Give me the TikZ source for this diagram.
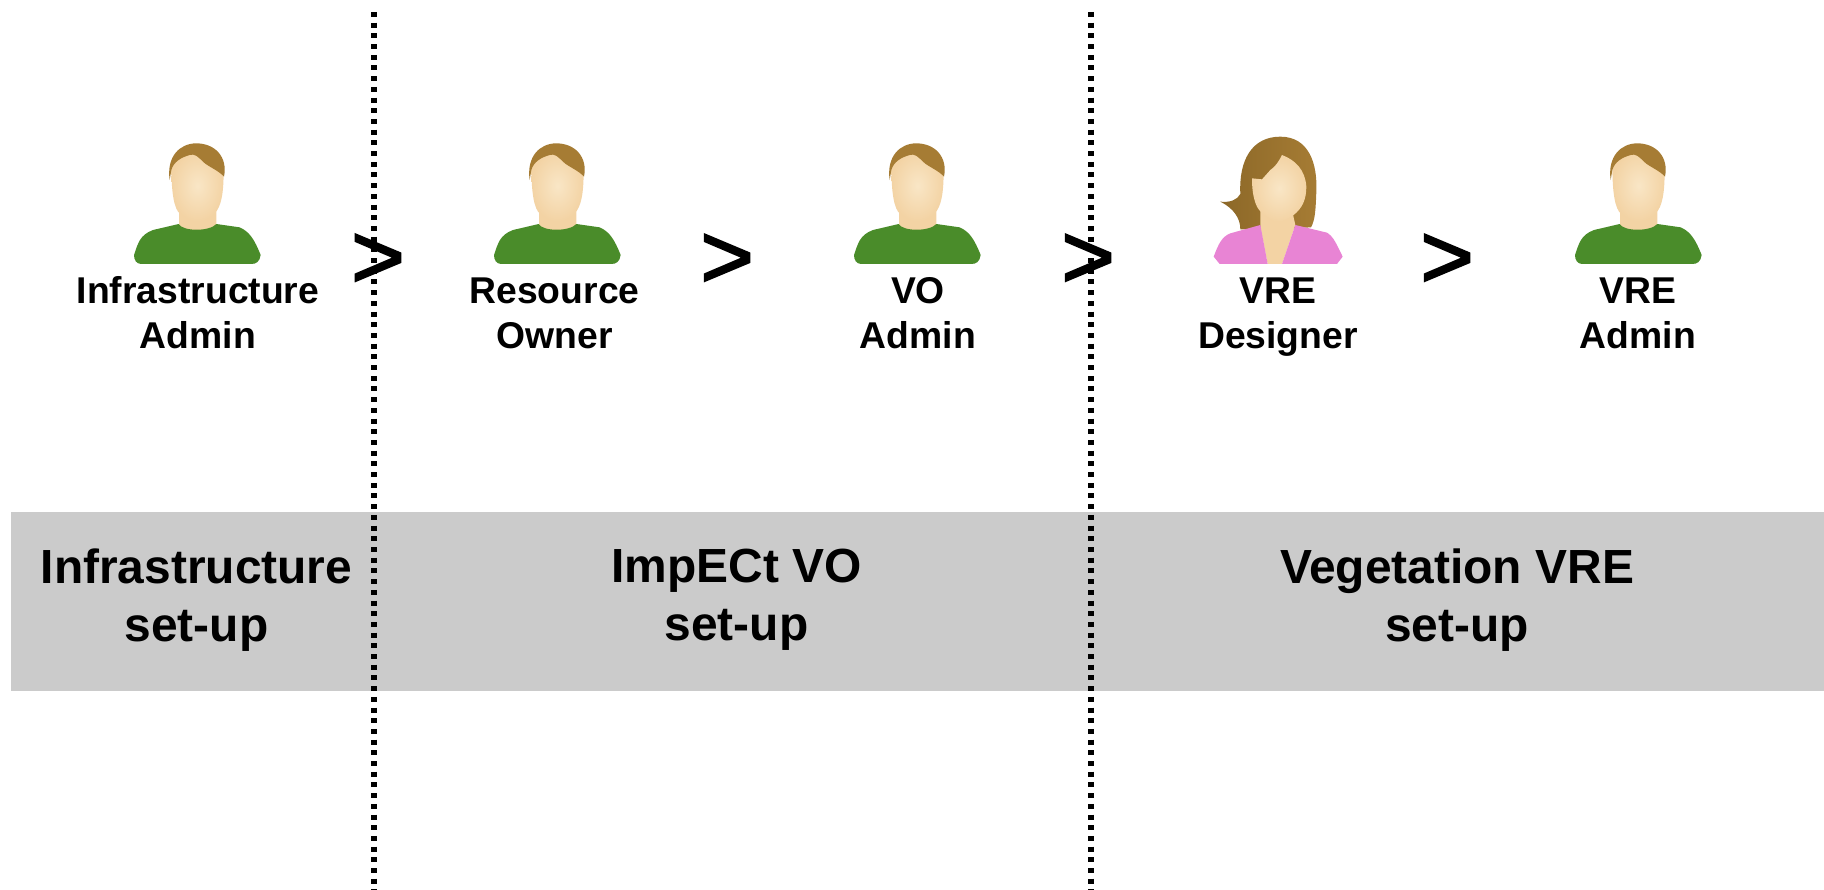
\documentclass[tikz,border=0pt]{standalone}
\usepackage{fontspec}
\usepackage{xcolor}
\setmainfont{Liberation Sans}
\newfontfamily\orderfont[FakeBold=2]{Liberation Sans}
\usetikzlibrary{positioning}
\definecolor{shirt}{HTML}{4A8C2A}
\definecolor{blouse}{HTML}{E884D4}
\definecolor{hair}{HTML}{A67C34}
\definecolor{hairdark}{HTML}{8C6828}
\definecolor{skin}{HTML}{F3D3A4}
\definecolor{skinlight}{HTML}{F9E6C6}
\definecolor{band}{HTML}{CBCBCB}
\tikzset{
    role/.style={align=center, font=\fontsize{37.3}{45}\selectfont\bfseries},
    phase/.style={align=center, font=\fontsize{47.9}{58}\selectfont\bfseries},
    order/.style={anchor=base, inner sep=0pt, font=\orderfont\fontsize{92}{92}\selectfont},
    divider/.style={line width=6pt, dash pattern=on 5pt off 5.7pt},
    man/.pic={
        \begin{scope}[x=.3333pt, y=-.3333pt, shift={(-292,-432)}]
            \fill[skin] (238,250) -- (238,320) -- (290,350) -- (350,320) -- (350,250) -- cycle;
            \fill[shirt] (103,405) .. controls (115,370) and (120,345) .. (160,330)
                -- (237,312) .. controls (250,335) and (330,335) .. (350,312)
                -- (420,322) .. controls (450,335) and (465,360) .. (483,405)
                .. controls (480,425) and (470,432) .. (455,432)
                -- (125,432) .. controls (110,432) and (103,420) .. (103,405) -- cycle;
            \shade[inner color=skinlight, outer color=skin] (215,130)
                .. controls (215,90) and (372,90) .. (372,150)
                .. controls (372,220) and (365,260) .. (345,280)
                .. controls (325,300) and (305,304) .. (292,304)
                .. controls (275,304) and (255,295) .. (235,275)
                .. controls (218,250) and (215,190) .. (215,130) -- cycle;
            \fill[hair] (210,180) .. controls (200,110) and (240,70) .. (290,70)
                .. controls (345,70) and (385,110) .. (373,170)
                .. controls (355,150) and (325,140) .. (310,125)
                .. controls (295,110) and (285,100) .. (270,105)
                .. controls (245,112) and (222,125) .. (215,150) -- cycle;
        \end{scope}
    },
    woman/.pic={
        \begin{scope}[x=.3333pt, y=-.3333pt, shift={(-293,-432)}]
            \shade[left color=hairdark, right color=hair] (180,328) .. controls (180,295) and (160,265) .. (120,245)
                .. controls (150,248) and (170,240) .. (180,222)
                .. controls (175,120) and (215,50) .. (300,50)
                .. controls (385,50) and (412,130) .. (408,215)
                .. controls (406,265) and (405,300) .. (392,322)
                -- (240,330) -- cycle;
            \fill[skin] (240,265) -- (240,320) -- (262,432) -- (305,432) -- (345,315) -- (335,270) -- cycle;
            \fill[blouse] (100,410) .. controls (115,370) and (125,350) .. (150,340)
                -- (240,315) -- (262,432) -- (118,432) -- cycle;
            \fill[blouse] (345,315) -- (440,338) .. controls (460,350) and (470,375) .. (487,410)
                -- (470,432) -- (305,432) -- cycle;
            \shade[inner color=skinlight, outer color=skin] (305,105)
                .. controls (345,120) and (375,150) .. (378,200)
                .. controls (378,240) and (365,265) .. (340,285)
                .. controls (320,300) and (305,305) .. (290,305)
                .. controls (270,300) and (240,280) .. (230,260)
                .. controls (218,235) and (215,205) .. (215,175)
                -- (245,178) -- (270,150) .. controls (285,140) and (295,125) .. (305,105) -- cycle;
        \end{scope}
    }
}

\begin{document}
\begin{tikzpicture}[x=1pt, y=-1pt]
    \useasboundingbox (0,0) rectangle (1824,890);

    % phases
    \fill[band] (11,512) rectangle (1824,691);
    \node[phase] (infraphase) at (196.5,600) {Infrastructure\\set-up};
    \node[phase] (vophase) at (736.5,600) {ImpECt VO\\set-up};
    \node[phase] (vrephase) at (1457,600) {Vegetation VRE\\set-up};

    % roles
    \pic at (197,264) {man};
    \pic at (557,264) {man};
    \pic at (917,264) {man};
    \pic at (1278,264) {woman};
    \pic at (1638,264) {man};
    \node[role] (infra) at (198,313) {Infrastructure\\Admin};
    \node[role] (owner) at (554.5,313) {Resource\\Owner};
    \node[role] (voadmin) at (918,313) {VO\\Admin};
    \node[role] (designer) at (1278,317) {VRE\\Designer};
    \node[role] (vreadmin) at (1638,313) {VRE\\Admin};

    % order of the roles
    \node[order] (first) at (378,288) {>};
    \node[order] (second) at (727,288) {>};
    \node[order] (third) at (1088,288) {>};
    \node[order] (fourth) at (1447,288) {>};

    % phase borders
    \coordinate (topa) at (374,12);
    \coordinate (bota) at (374,890);
    \coordinate (topb) at (1091,12);
    \coordinate (botb) at (1091,890);
    \draw[divider] (topa) -- (bota);
    \draw[divider] (topb) -- (botb);
\end{tikzpicture}
\end{document}
